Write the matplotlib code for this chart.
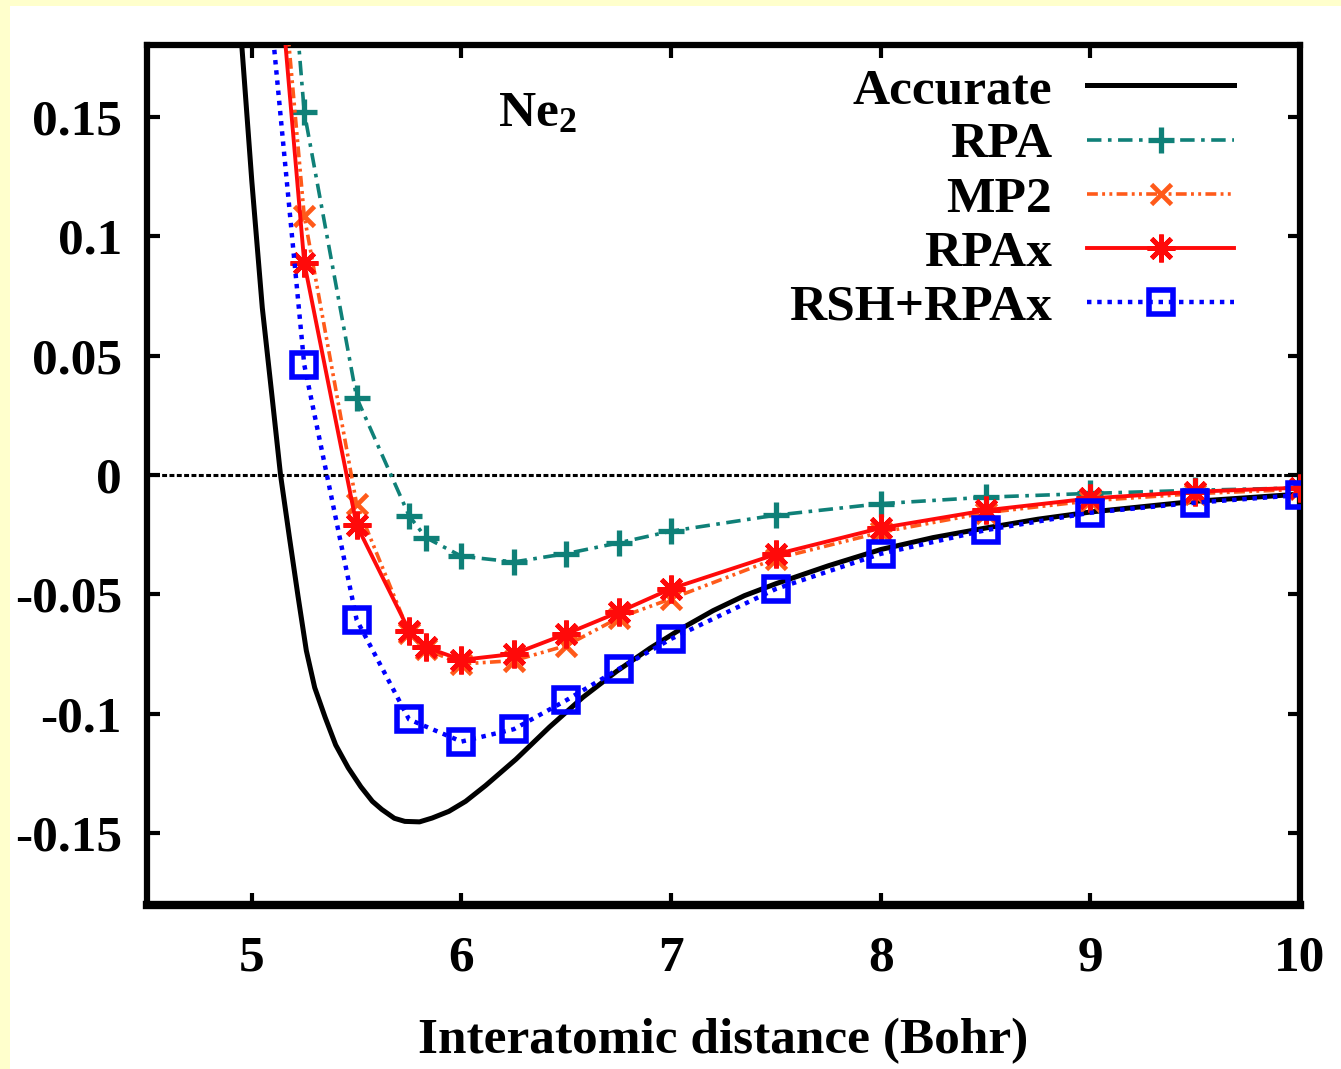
import matplotlib
matplotlib.use("Agg")
import matplotlib.pyplot as plt
from matplotlib.patches import Rectangle

plt.rcParams['font.family'] = ['Liberation Serif', 'DejaVu Serif']
plt.rcParams['font.weight'] = 'bold'
plt.rcParams['axes.unicode_minus'] = False
plt.rcParams['mathtext.fontset'] = 'custom'
plt.rcParams['mathtext.rm'] = 'Liberation Serif:bold'
plt.rcParams['mathtext.bf'] = 'Liberation Serif:bold'
plt.rcParams['mathtext.it'] = 'Liberation Serif:bold'

# ---- data ----
x_acc = [4.93, 4.952, 5.00, 5.05, 5.10, 5.137, 5.18, 5.22, 5.26, 5.30, 5.35, 5.40, 5.46,
         5.52, 5.575, 5.62, 5.68, 5.73, 5.80, 5.86, 5.94, 6.02, 6.115, 6.26, 6.42, 6.58,
         6.74, 6.90, 7.055, 7.20, 7.35, 7.50, 7.75, 8.00, 8.25, 8.50, 8.75, 9.00, 9.50, 10.0]
y_acc = [0.207, 0.180, 0.123, 0.070, 0.030, 0.0, -0.0265, -0.0505, -0.0735, -0.0890,
         -0.1015, -0.1130, -0.1226, -0.1305, -0.1366, -0.1400, -0.1437, -0.1450, -0.1452,
         -0.1436, -0.1408, -0.1366, -0.1300, -0.1190, -0.1055, -0.0930, -0.0822, -0.0725,
         -0.0640, -0.0568, -0.0505, -0.0455, -0.0380, -0.0312, -0.0262, -0.0222, -0.0185,
         -0.0155, -0.0110, -0.0080]

x_calc = [5.0, 5.25, 5.5, 5.75, 5.83, 6.0, 6.25, 6.5, 6.75, 7.0, 7.5, 8.0, 8.5, 9.0, 9.5, 10.0]
y_rpa = [0.42, 0.152, 0.0324, -0.0170, -0.0262, -0.0340, -0.0364, -0.0329, -0.0284,
         -0.0235, -0.0168, -0.0120, -0.0093, -0.0077, -0.0064, -0.0054]
y_mp2 = [0.354, 0.1085, -0.0122, -0.0660, -0.0730, -0.0791, -0.0777, -0.0714, -0.0598,
         -0.0518, -0.0350, -0.0240, -0.0158, -0.0108, -0.0078, -0.0060]
y_rpax = [0.344, 0.0889, -0.0210, -0.0651, -0.0721, -0.0774, -0.0749, -0.0665, -0.0574,
          -0.0476, -0.0332, -0.0222, -0.0148, -0.0098, -0.0070, -0.0053]

x_rsh = [5.0, 5.25, 5.5, 5.75, 6.0, 6.25, 6.5, 6.75, 7.0, 7.5, 8.0, 8.5, 9.0, 9.5, 10.0]
y_rsh = [0.277, 0.0462, -0.0606, -0.1023, -0.1116, -0.1064, -0.0943, -0.0812, -0.0686,
         -0.0477, -0.0330, -0.0231, -0.0158, -0.0116, -0.0084]

labels = ["Accurate", "RPA", "MP2", "RPAx", "RSH+RPAx"]
xticks = [5, 6, 7, 8, 9, 10]
xticklabels = ["5", "6", "7", "8", "9", "10"]
yticks = [0.15, 0.1, 0.05, 0, -0.05, -0.1, -0.15]
yticklabels = ["0.15", "0.1", "0.05", "0", "-0.05", "-0.1", "-0.15"]

# ---- figure ----
fig = plt.figure(figsize=(13.41, 10.69), dpi=100, facecolor='white')
fig.patches.append(Rectangle((0, 1 - 6 / 1069), 1, 6 / 1069, transform=fig.transFigure,
                             facecolor='#FFFFCC', edgecolor='none', zorder=0))
fig.patches.append(Rectangle((0, 0), 10 / 1341, 1, transform=fig.transFigure,
                             facecolor='#FFFFCC', edgecolor='none', zorder=0))

ax = fig.add_axes([147 / 1341, 1 - 905 / 1069, (1300 - 147) / 1341, (905 - 45) / 1069])

ax.axhline(0, color='black', lw=2.2, linestyle=(0, (1.6, 0.8)), zorder=1)

ax.plot(x_acc, y_acc, color='black', lw=3.6, label=labels[0], zorder=2,
        solid_joinstyle='round')
ax.plot(x_calc, y_rpa, color='#0f8078', lw=2.6, linestyle=(0, (4, 1.8, 1, 1.8)),
        marker='+', markersize=19, markeredgewidth=3.8, label=labels[1], zorder=3)
ax.plot(x_calc, y_mp2, color='#ff5a1a', lw=2.6, linestyle=(0, (3, 1.2, 0.8, 1.2, 0.8, 1.2)),
        marker='x', markersize=15, markeredgewidth=3.4, label=labels[2], zorder=4)
ax.plot(x_calc, y_rpax, color='#ff0a0a', lw=2.8, linestyle='-',
        marker=(8, 2, 0), markersize=20, markeredgewidth=3.4, label=labels[3], zorder=5)
ax.plot(x_rsh, y_rsh, color='#0000ff', lw=3.2, linestyle=(0, (1, 1.3)),
        marker='s', markersize=17, markeredgewidth=4, fillstyle='none',
        label=labels[4], zorder=6)

ax.set_xlim(4.5, 10)
ax.set_ylim(-0.18, 0.18)
ax.set_xticks(xticks)
ax.set_xticklabels(xticklabels)
ax.set_yticks(yticks)
ax.set_yticklabels(yticklabels)

for s in ['left', 'right', 'top']:
    ax.spines[s].set_linewidth(4.5)
ax.spines['bottom'].set_linewidth(6)

ax.tick_params(axis='both', which='major', direction='in', length=9, width=3,
               top=True, right=True, labelsize=37)
ax.tick_params(axis='x', pad=22)
ax.tick_params(axis='y', pad=18)
for t in ax.get_xticklabels() + ax.get_yticklabels():
    t.set_fontweight('bold')

ax.set_xlabel("Interatomic distance (Bohr)", fontsize=37, fontweight='bold', labelpad=26)

ax.text(6.36, 0.151, "Ne$_{2}$", fontsize=37, fontweight='bold', ha='center', va='center')

leg = ax.legend(loc='upper right', bbox_to_anchor=(0.943, 0.974), frameon=False,
                markerfirst=False, numpoints=1, fontsize=37, handlelength=2.86,
                handletextpad=0.68, labelspacing=0.14, borderpad=0, borderaxespad=0)
for t in leg.get_texts():
    t.set_ha('right')
    t.set_fontweight('bold')
leg._legend_box.align = "right"

fig.savefig("out.png", dpi=100, facecolor=fig.get_facecolor())
